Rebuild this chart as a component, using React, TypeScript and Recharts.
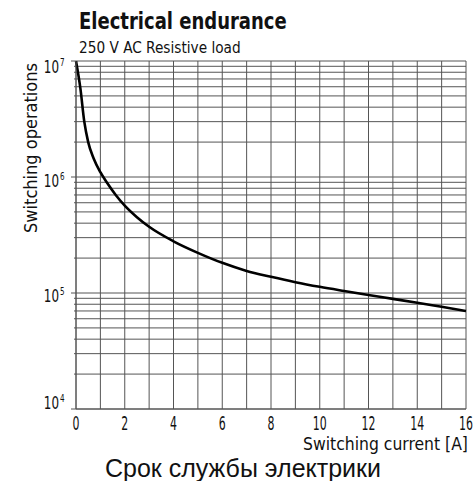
import { LineChart, Line, XAxis, YAxis, CartesianGrid } from 'recharts';

const current = [
  0, 0.18, 0.34, 0.5, 0.72, 1, 1.26, 1.63, 2, 2.5, 3, 4, 5, 6, 7, 8, 9, 10, 11, 12, 13, 14, 15, 16,
];
const operations = [
  1e7, 5.8e6, 3.0e6, 2.0e6, 1.45e6, 1.1e6, 9.0e5, 7.0e5, 5.66e5, 4.5e5, 3.72e5, 2.79e5, 2.22e5,
  1.82e5, 1.55e5, 1.38e5, 1.24e5, 1.13e5, 1.04e5, 9.6e4, 8.9e4, 8.25e4, 7.6e4, 7.0e4,
];
const xTicks = [0, 1, 2, 3, 4, 5, 6, 7, 8, 9, 10, 11, 12, 13, 14, 15, 16];
const decades = [4, 5, 6, 7];

const yTicks: number[] = [];
decades.forEach((d) => {
  if (d === 7) {
    yTicks.push(1e7);
    return;
  }
  for (let m = 1; m <= 9; m++) yTicks.push(m * Math.pow(10, d));
});

const data = current.map((c, i) => ({ current: c, ops: operations[i] }));

const condensed = "'DejaVu Sans Condensed', 'Liberation Sans Narrow', sans-serif";
const gridColor = '#555';

// label offset per exponent, the source shifts them a little
const labelDy: Record<number, number> = { 7: 12, 6: 10, 5: 9, 4: 0 };

function YTick(props: any) {
  const { x, y, payload } = props;
  const v = payload.value;
  const exp = Math.round(Math.log10(v));
  const isDecade = Math.abs(v - Math.pow(10, exp)) < 1;
  if (!isDecade) {
    return <line x1={x - 2} x2={x} y1={y} y2={y} stroke={gridColor} />;
  }
  const ty = y + labelDy[exp];
  return (
    <g>
      <line x1={x - 5} x2={x} y1={y} y2={y} stroke={gridColor} />
      <g transform={`translate(${x - 17}, ${ty}) scale(0.78, 1)`}>
        <text x={0} y={0} textAnchor="end" fontFamily={condensed} fontSize={17} fill="#111">
          10
        </text>
      </g>
      <g transform={`translate(${x - 16}, ${ty - 7}) scale(0.8, 1)`}>
        <text x={0} y={0} fontFamily={condensed} fontSize={10} fill="#111">
          {exp}
        </text>
      </g>
    </g>
  );
}

function XTick(props: any) {
  const { x, y, payload } = props;
  const v = payload.value;
  if (v % 2 !== 0) return null;
  return (
    <g transform={`translate(${x}, ${y + 21}) scale(0.64, 1)`}>
      <text x={0} y={0} textAnchor="middle" fontFamily={condensed} fontSize={19} fill="#111">
        {v}
      </text>
    </g>
  );
}

const narrow = (s: number) => ({ transform: `scaleX(${s})`, transformOrigin: 'left top' });

export default function App() {
  return (
    <div style={{ position: 'absolute', left: 0, top: 0, width: 473, height: 481, background: '#fff' }}>
      <div
        style={{
          position: 'absolute',
          left: 79,
          top: 8,
          fontFamily: condensed,
          fontWeight: 'bold',
          fontSize: 23,
          color: '#111',
          whiteSpace: 'nowrap',
          ...narrow(0.87),
        }}
      >
        Electrical endurance
      </div>
      <div
        style={{
          position: 'absolute',
          left: 79,
          top: 38,
          fontFamily: condensed,
          fontSize: 16,
          color: '#111',
          whiteSpace: 'nowrap',
          ...narrow(0.95),
        }}
      >
        250 V AC Resistive load
      </div>
      <div
        style={{
          position: 'absolute',
          left: 30,
          top: 148,
          transform: 'translate(-50%, -50%) rotate(-90deg)',
          fontFamily: condensed,
          fontSize: 18,
          color: '#111',
          whiteSpace: 'nowrap',
        }}
      >
        Switching operations
      </div>
      <LineChart width={473} height={481} data={data} margin={{ top: 61, right: 7, bottom: 0, left: 0 }}>
        <CartesianGrid stroke={gridColor} strokeWidth={1} />
        <XAxis
          dataKey="current"
          type="number"
          domain={[0, 16]}
          ticks={xTicks}
          interval={0}
          height={72}
          tickLine={false}
          tickSize={0}
          tickMargin={0}
          axisLine={{ stroke: gridColor }}
          tick={<XTick />}
        />
        <YAxis
          dataKey="ops"
          type="number"
          scale="log"
          domain={[1e4, 1e7]}
          ticks={yTicks}
          interval={0}
          width={76}
          tickLine={false}
          tickSize={0}
          tickMargin={0}
          axisLine={{ stroke: gridColor }}
          tick={<YTick />}
          allowDataOverflow
        />
        <Line
          type="monotone"
          dataKey="ops"
          stroke="#000"
          strokeWidth={2.6}
          dot={false}
          isAnimationActive={false}
        />
      </LineChart>
      <div
        style={{
          position: 'absolute',
          left: 303,
          top: 433,
          fontFamily: condensed,
          fontSize: 18,
          color: '#111',
          whiteSpace: 'nowrap',
          ...narrow(0.965),
        }}
      >
        Switching current [A]
      </div>
      <div
        style={{
          position: 'absolute',
          left: 243,
          top: 454,
          transform: 'translateX(-50%)',
          fontFamily: "'Liberation Sans', Arial, sans-serif",
          fontSize: 25,
          color: '#111',
          whiteSpace: 'nowrap',
        }}
      >
        Срок службы электрики
      </div>
    </div>
  );
}
